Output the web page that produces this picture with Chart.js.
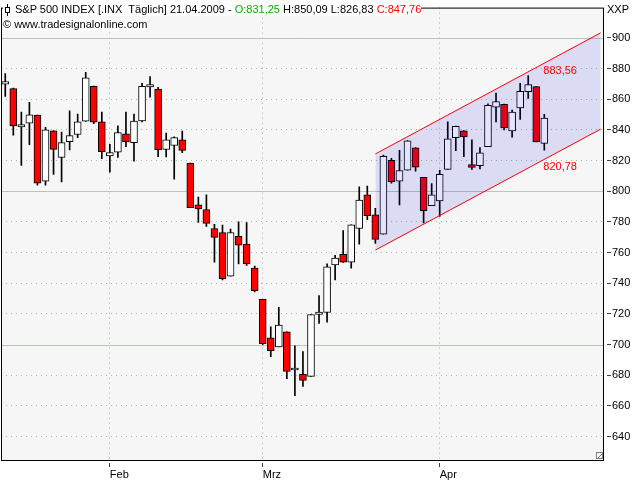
<!DOCTYPE html>
<html>
<head>
<meta charset="utf-8">
<title>S&amp;P 500 INDEX</title>
<script src="https://cdn.jsdelivr.net/npm/chart.js@4.4.0/dist/chart.umd.min.js"></script>
<style>
	html, body { margin: 0; padding: 0; background: #fff; }
	#wrap { position: relative; width: 640px; height: 480px; }
	.txt { position: absolute; font: 11px 'Liberation Sans', Arial, sans-serif; color: #000; white-space: pre; line-height: 13px; }
	#head { left: 3px; top: 3px; padding-left: 12px; background: #fff; }
	#copy { left: 3px; top: 18px; background: #fff; }
	#unit { left: 607px; top: 3px; }
	.up { color: #00b000; }
	.dn { color: #ff0000; }
	.wick { position: absolute; left: 4px; top: 1px; width: 1px; height: 12px; background: #000; }
	.box { position: absolute; left: 2px; top: 4px; width: 3px; height: 4px; border: 1px solid #000; background: #fff; }
</style>
</head>
<body>
<div id="wrap">
	<canvas id="chart" width="640" height="480"></canvas>
	<div class="txt" id="head"></div>
	<div class="txt" id="copy">© www.tradesignalonline.com</div>
	<div class="txt" id="unit">XXP</div>
</div>
<script>
// trading days, 13.01.2009 - 21.04.2009
const days = [
	'2009-01-13', '2009-01-14', '2009-01-15', '2009-01-16', '2009-01-20', '2009-01-21', '2009-01-22',
	'2009-01-23', '2009-01-26', '2009-01-27', '2009-01-28', '2009-01-29', '2009-01-30',
	'2009-02-02', '2009-02-03', '2009-02-04', '2009-02-05', '2009-02-06', '2009-02-09', '2009-02-10',
	'2009-02-11', '2009-02-12', '2009-02-13', '2009-02-17', '2009-02-18', '2009-02-19', '2009-02-20',
	'2009-02-23', '2009-02-24', '2009-02-25', '2009-02-26', '2009-02-27',
	'2009-03-02', '2009-03-03', '2009-03-04', '2009-03-05', '2009-03-06', '2009-03-09', '2009-03-10',
	'2009-03-11', '2009-03-12', '2009-03-13', '2009-03-16', '2009-03-17', '2009-03-18', '2009-03-19',
	'2009-03-20', '2009-03-23', '2009-03-24', '2009-03-25', '2009-03-26', '2009-03-27', '2009-03-30',
	'2009-03-31',
	'2009-04-01', '2009-04-02', '2009-04-03', '2009-04-06', '2009-04-07', '2009-04-08', '2009-04-09',
	'2009-04-13', '2009-04-14', '2009-04-15', '2009-04-16', '2009-04-17', '2009-04-20', '2009-04-21',
];

const opens = [
	869.8, 867.0, 841.9, 844.4, 849.6, 806.6, 839.4, 822.0, 832.3, 837.0, 845.7, 868.5, 845.3,
	823.0, 825.4, 837.5, 831.6, 845.8, 868.0, 866.6, 827.2, 829.8, 833.6, 818.3, 791.1, 788.1, 775.7,
	773.1, 744.6, 770.5, 765.5, 749.9,
	729.4, 704.3, 698.4, 708.2, 683.4, 680.6, 679.2, 719.6, 720.9, 751.9, 758.9, 753.8, 775.8, 797.6,
	784.6, 772.0, 820.2, 806.6, 813.8, 828.3, 809.0, 790.6,
	793.6, 814.3, 834.9, 839.4, 817.4, 816.7, 829.0, 854.8, 856.7, 839.3, 854.3, 865.0, 868.2, 831.25,
];
const highs = [
	876.8, 867.3, 851.7, 858.0, 849.6, 841.6, 839.5, 838.5, 852.4, 850.3, 877.5, 868.6, 851.7,
	830.6, 842.6, 851.7, 850.3, 870.4, 874.8, 867.8, 838.0, 835.4, 839.3, 818.3, 796.2, 797.6, 778.4,
	777.9, 775.3, 780.1, 779.5, 751.2,
	729.4, 711.5, 724.2, 708.2, 699.2, 695.4, 719.6, 731.9, 752.6, 758.2, 774.4, 778.1, 802.8, 803.3,
	788.9, 823.6, 821.5, 826.7, 833.0, 828.4, 809.0, 805.0,
	813.6, 845.3, 842.5, 839.5, 833.6, 828.4, 857.0, 864.0, 856.8, 853.0, 870.4, 875.4, 868.3, 850.09,
];
const lows = [
	861.8, 836.6, 816.8, 830.3, 804.0, 804.0, 811.0, 806.0, 827.0, 835.0, 845.6, 844.0, 821.2,
	812.5, 822.0, 829.0, 819.6, 845.2, 861.4, 822.6, 822.4, 807.9, 825.1, 789.2, 779.6, 777.0, 753.8,
	742.1, 744.6, 752.5, 751.6, 734.3,
	699.9, 692.0, 698.4, 677.8, 666.6, 672.6, 679.2, 713.8, 714.6, 742.2, 753.5, 749.8, 765.4, 781.4,
	766.0, 772.0, 805.3, 791.0, 813.8, 813.0, 779.4, 790.6,
	783.5, 814.3, 826.4, 822.5, 814.2, 814.6, 829.0, 845.2, 840.0, 835.3, 846.9, 860.5, 832.2, 826.83,
];
const closes = [
	871.6, 842.6, 843.5, 849.8, 805.2, 840.0, 827.3, 831.7, 836.3, 845.3, 874.0, 845.0, 825.8,
	825.2, 838.2, 832.2, 845.7, 868.4, 869.6, 827.1, 833.6, 835.0, 826.6, 789.2, 788.4, 779.0, 769.9,
	743.0, 773.1, 764.8, 752.5, 735.1,
	700.5, 696.0, 712.7, 682.4, 683.4, 676.6, 719.6, 721.1, 750.7, 756.4, 753.8, 778.1, 794.3, 784.0,
	768.5, 822.7, 806.0, 813.5, 832.8, 815.7, 787.3, 797.6,
	811.0, 834.2, 842.4, 835.4, 815.5, 825.1, 856.0, 858.5, 841.3, 851.7, 865.1, 869.5, 832.2, 847.76,
];

// trend channel (bar index -> value)
const channelX = [46, 74];
const channelTop = [824.3, 903.3];
const channelBottom = [761.6, 840.5];
const channelLabels = [883.56, 820.78];

const yTicks = [640, 660, 680, 700, 720, 740, 760, 780, 800, 820, 840, 860, 880, 900];
const yMajor = [700, 800, 900];
const monthNames = ['Jan', 'Feb', 'Mrz', 'Apr', 'Mai', 'Jun', 'Jul', 'Aug', 'Sep', 'Okt', 'Nov', 'Dez'];

const font = { family: "'Liberation Sans', Arial, sans-serif", size: 11 };
const fmt = (v) => v.toFixed(2).replace('.', ',');

// first trading day of each month gets a tick
let monthTicks = [];
let monthLabels = [];
for (let i = 1; i < days.length; i++) {
	if (days[i].slice(5, 7) !== days[i - 1].slice(5, 7)) {
		monthTicks.push(i);
		monthLabels.push(monthNames[parseInt(days[i].slice(5, 7)) - 1]);
	}
}

// header line with the last bar
let last = days.length - 1;
let d = days[last].split('-');
document.getElementById('head').innerHTML =
	'<span class="wick"></span><span class="box"></span>' +
	'S&amp;P 500 INDEX [.INX  Täglich] ' + d[2] + '.' + d[1] + '.' + d[0] + ' - ' +
	'<span class="up">O:' + fmt(opens[last]) + '</span> H:' + fmt(highs[last]) +
	' L:' + fmt(lows[last]) + ' <span class="dn">C:' + fmt(closes[last]) + '</span>';

let bodies = days.map((day, i) => ({ x: i, y: [opens[i], closes[i]] }));
let wicks = days.map((day, i) => ({ x: i, y: [lows[i], highs[i]] }));
let bodyColors = days.map((day, i) => (closes[i] < opens[i] ? '#ff0000' : '#ffffff'));

const framePlugin = {
	id: 'frame',
	beforeDraw(chart) {
		const { ctx, chartArea: a } = chart;
		ctx.save();
		ctx.fillStyle = '#f6f6f6';
		ctx.fillRect(a.left, a.top, a.right - a.left, a.bottom - a.top);
		ctx.restore();
	},
	beforeDatasetsDraw(chart) {
		const { ctx, chartArea: a } = chart;
		const y = chart.scales.y;
		ctx.save();
		ctx.strokeStyle = '#b4c8b4';
		ctx.lineWidth = 1;
		yMajor.forEach((v) => {
			let py = Math.round(y.getPixelForValue(v)) + 0.5;
			ctx.beginPath();
			ctx.moveTo(a.left, py);
			ctx.lineTo(a.right, py);
			ctx.stroke();
		});
		ctx.restore();
	},
	afterDatasetsDraw(chart) {
		const { ctx } = chart;
		const x = chart.scales.x;
		const y = chart.scales.y;
		ctx.save();
		ctx.fillStyle = '#ff0000';
		ctx.font = '11px ' + font.family;
		ctx.textAlign = 'left';
		ctx.textBaseline = 'top';
		channelLabels.forEach((v) => {
			ctx.fillText(fmt(v), x.getPixelForValue(last) - 1, y.getPixelForValue(v) + 2);
		});
		ctx.restore();
	},
	afterDraw(chart) {
		const { ctx, chartArea: a } = chart;
		ctx.save();
		ctx.strokeStyle = '#000';
		ctx.lineWidth = 1;
		ctx.strokeRect(a.left + 0.5, a.top + 0.5, a.right - a.left - 1, a.bottom - a.top);
		// resize corner
		ctx.strokeStyle = '#808080';
		ctx.strokeRect(a.right - 7.5, a.bottom - 7.5, 6, 6);
		ctx.beginPath();
		ctx.moveTo(a.right - 7, a.bottom - 1);
		ctx.lineTo(a.right - 1, a.bottom - 7);
		ctx.stroke();
		ctx.restore();
	},
};

new Chart(document.getElementById('chart'), {
	type: 'bar',
	data: {
		datasets: [
			{
				type: 'line',
				label: 'Kanal oben',
				data: channelX.map((v, i) => ({ x: v, y: channelTop[i] })),
				borderColor: '#ff0000',
				borderWidth: 1,
				pointRadius: 0,
				fill: false,
				order: 0,
			},
			{
				type: 'line',
				label: 'Kanal unten',
				data: channelX.map((v, i) => ({ x: v, y: channelBottom[i] })),
				borderColor: '#ff0000',
				borderWidth: 1,
				pointRadius: 0,
				fill: '-1',
				backgroundColor: 'rgba(0, 0, 230, 0.11)',
				order: 0,
			},
			{
				label: 'Körper',
				data: bodies,
				backgroundColor: bodyColors,
				borderColor: '#000',
				borderWidth: 1,
				borderSkipped: false,
				barThickness: 7,
				minBarLength: 2,
				grouped: false,
				order: 1,
			},
			{
				label: 'Docht',
				data: wicks,
				backgroundColor: '#000',
				borderWidth: 0,
				barThickness: 1,
				grouped: false,
				order: 2,
			},
		],
	},
	options: {
		responsive: false,
		animation: false,
		events: [],
		layout: { padding: { left: 1, top: 1, right: 0, bottom: 0 } },
		plugins: {
			legend: { display: false },
			tooltip: { enabled: false },
		},
		scales: {
			x: {
				type: 'linear',
				min: -0.53,
				max: 74.42,
				offset: false,
				afterBuildTicks: (s) => {
					s.ticks = monthTicks.map((v) => ({ value: v }));
				},
				afterFit: (s) => {
					s.height = 20;
				},
				grid: {
					offset: false,
					color: '#a8a8a8',
					tickLength: 7,
					tickColor: '#404040',
					tickBorderDash: [0, 3, 4, 40],
				},
				border: { display: false, dash: [1, 4] },
				ticks: {
					align: 'start',
					padding: 1,
					color: '#000',
					font: font,
					maxRotation: 0,
					autoSkip: false,
					callback: (v, i) => monthLabels[i],
				},
			},
			y: {
				position: 'right',
				min: 624.67,
				max: 919.78,
				beginAtZero: false,
				afterBuildTicks: (s) => {
					s.ticks = yTicks.map((v) => ({ value: v }));
				},
				afterFit: (s) => {
					s.width = 36;
				},
				grid: {
					color: (c) => (c.tick && yMajor.includes(c.tick.value) ? 'rgba(0,0,0,0)' : '#9cbf9c'),
					tickLength: 7,
					tickColor: '#404040',
					tickBorderDash: [0, 3, 4, 40],
				},
				border: { display: false, dash: [1, 4] },
				ticks: {
					padding: 1,
					color: '#000',
					font: font,
					callback: (v) => String(v),
				},
			},
		},
	},
	plugins: [framePlugin],
});
</script>
</body>
</html>
